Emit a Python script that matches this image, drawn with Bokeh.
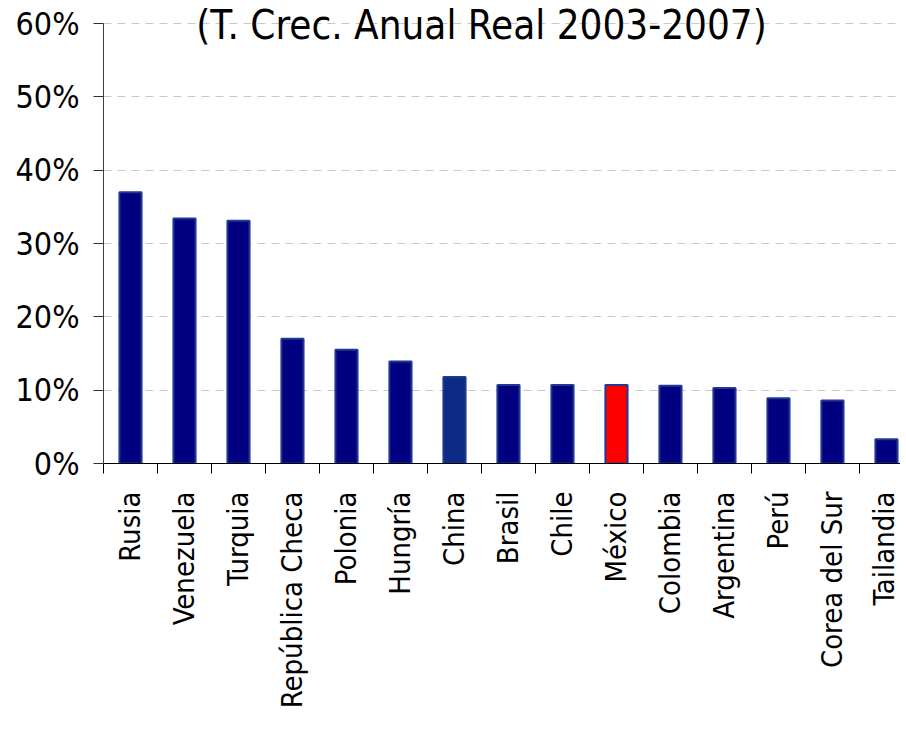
import math
from bokeh.plotting import figure
from bokeh.models import Range1d, FixedTicker, PrintfTickFormatter, Label, ColumnDataSource
from bokeh.embed import file_html
from bokeh.resources import INLINE

countries = ["Rusia", "Venezuela", "Turquia", "República Checa", "Polonia", "Hungría", "China",
             "Brasil", "Chile", "México", "Colombia", "Argentina", "Perú", "Corea del Sur", "Tailandia"]
growth = [37.0, 33.4, 33.1, 17.0, 15.5, 13.9, 11.8, 10.7, 10.7, 10.7, 10.6, 10.3, 8.9, 8.6, 3.3]
bar_colors = ["#000080", "#000080", "#000080", "#000080", "#000080", "#000080", "#0d2b85",
              "#000080", "#000080", "#ff0000", "#000080", "#000080", "#000080", "#000080", "#000080"]
y_ticks = [0, 10, 20, 30, 40, 50, 60]
title_text = "(T. Crec. Anual Real 2003-2007)"

FONT = "DejaVu Sans Condensed"

idx = list(range(len(countries)))
src = ColumnDataSource(dict(x=idx, top=growth, color=bar_colors))

# frame spans the full canvas top; the axis itself stops at 60%
p = figure(width=900, height=721, output_backend="svg", toolbar_location=None,
           x_range=Range1d(-0.5, 14.26), y_range=Range1d(0, 60 * 463 / 440),
           min_border_left=103, min_border_right=0, min_border_top=0, min_border_bottom=258)
p.outline_line_color = None
p.background_fill_color = "white"
p.border_fill_color = "white"

p.vbar(x="x", top="top", bottom=0, width=0.41, source=src, fill_color="color",
       line_color="#1f3a8f", line_width=2)

# y axis
yt = FixedTicker(ticks=y_ticks)
p.yaxis.ticker = yt
p.yaxis.bounds = (0, 60)
p.yaxis.formatter = PrintfTickFormatter(format="%d%%")
p.yaxis.major_label_text_font = FONT
p.yaxis.major_label_text_font_size = "32px"
p.yaxis.major_label_text_color = "black"
p.yaxis.major_tick_in = 0
p.yaxis.major_tick_out = 10
p.yaxis.major_tick_line_color = "#303030"
p.yaxis.minor_tick_line_color = None
p.yaxis.axis_line_color = "#404040"
p.yaxis.major_label_standoff = 14

# x axis
xt = FixedTicker(ticks=idx, minor_ticks=[i - 0.5 for i in range(len(countries) + 1)])
p.xaxis.ticker = xt
p.xaxis.major_label_overrides = {i: c for i, c in enumerate(countries)}
p.xaxis.major_label_orientation = math.pi / 2
p.xaxis.major_label_text_font = FONT
p.xaxis.major_label_text_font_size = "29px"
p.xaxis.major_label_text_color = "black"
p.xaxis.major_tick_in = 0
p.xaxis.major_tick_out = 0
p.xaxis.major_tick_line_color = None
p.xaxis.minor_tick_in = 0
p.xaxis.minor_tick_out = 10
p.xaxis.minor_tick_line_color = "black"
p.xaxis.axis_line_color = "black"
p.xaxis.major_label_standoff = 18

p.xgrid.grid_line_color = None
p.ygrid.ticker = yt
p.ygrid.grid_line_color = "#c8c8c8"
p.ygrid.grid_line_dash = "8 6"
p.ygrid.grid_line_width = 1

p.add_layout(Label(x=6.5, y=60, text=title_text, text_align="center", text_baseline="alphabetic",
                   y_offset=-1, text_font=FONT, text_font_size="40px", text_color="black"))

open("out.html", "w").write(file_html(p, INLINE))
